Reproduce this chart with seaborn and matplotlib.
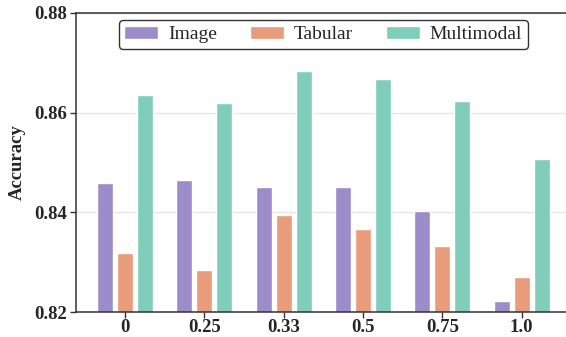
import matplotlib
matplotlib.use("Agg")
import matplotlib.pyplot as plt
import seaborn as sns
import pandas as pd

categories = ["0", "0.25", "0.33", "0.5", "0.75", "1.0"]
image_acc = [0.8459, 0.8465, 0.8451, 0.8451, 0.8403, 0.8223]
tabular_acc = [0.8319, 0.8285, 0.8395, 0.8367, 0.8333, 0.8271]
multimodal_acc = [0.8635, 0.8619, 0.8683, 0.8667, 0.8623, 0.8507]
series_names = ["Image", "Tabular", "Multimodal"]
y_ticks = [0.82, 0.84, 0.86, 0.88]

df = pd.DataFrame({
    "ratio": categories * 3,
    "acc": image_acc + tabular_acc + multimodal_acc,
    "modality": [s for s in series_names for _ in categories],
})

sns.set_theme(style="white")
plt.rcParams["font.family"] = ["Liberation Serif", "DejaVu Serif"]

palette = {"Image": "#9c8dca", "Tabular": "#e89c7b", "Multimodal": "#80cdbb"}

fig = plt.figure(figsize=(5.66, 3.37), dpi=100)
ax = fig.add_axes([0.1334, 0.0733, 0.8757, 0.889])
ax.set_axisbelow(True)
ax.yaxis.grid(True, color="#e6e6e6", linewidth=0.9)

sns.barplot(data=df, x="ratio", y="acc", hue="modality", hue_order=series_names,
            order=categories, palette=palette, width=0.756, gap=0.2,
            saturation=1, ax=ax, legend=True)

ax.set_ylim(0.82, 0.88)
ax.set_xlim(-0.625, 5.625)
ax.set_yticks(y_ticks)
ax.set_yticklabels([f"{v:.2f}" for v in y_ticks])
ax.set_xlabel("")
ax.set_ylabel("Accuracy", fontsize=13.5, fontweight="bold", labelpad=6)
for lab in ax.get_xticklabels() + ax.get_yticklabels():
    lab.set_fontweight("bold")
    lab.set_fontsize(13.5)
ax.tick_params(axis="both", which="both", direction="out", length=4, width=1,
               color="#333333", pad=2, bottom=True, left=True)
ax.tick_params(axis="x", pad=1)
for side in ["left", "bottom", "top", "right"]:
    ax.spines[side].set_color("#333333")
    ax.spines[side].set_linewidth(1.1)

leg = ax.legend(loc="upper center", ncol=3, fontsize=14, frameon=True,
                bbox_to_anchor=(0.5, 0.976), borderaxespad=0,
                handlelength=1.75, handleheight=0.7,
                handletextpad=0.5, columnspacing=1.7, borderpad=0.3,
                fancybox=True, edgecolor="#333333")
leg.get_frame().set_linewidth(1.0)
leg.get_frame().set_alpha(1)

fig.savefig("out.png", dpi=100)
